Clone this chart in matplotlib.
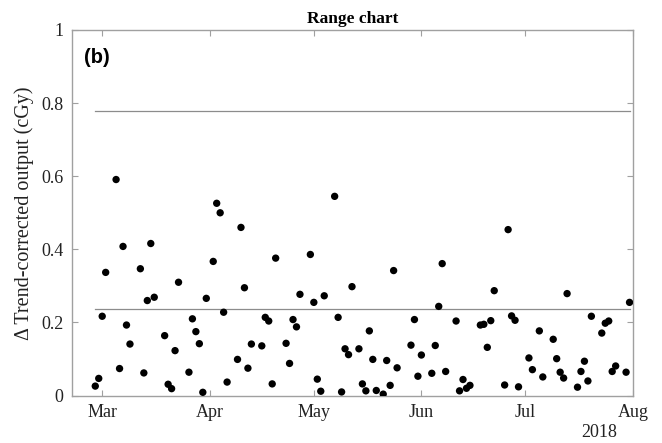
import datetime as dt
import matplotlib
matplotlib.use("Agg")
import matplotlib.pyplot as plt
import matplotlib.dates as mdates
from matplotlib.ticker import FixedLocator, FuncFormatter

# Daily range of trend-corrected output (cGy), 2018
dates = [
    "2018-02-27", "2018-02-28", "2018-03-01", "2018-03-02", "2018-03-05", "2018-03-06",
    "2018-03-07", "2018-03-08", "2018-03-09", "2018-03-12", "2018-03-13", "2018-03-14",
    "2018-03-15", "2018-03-16", "2018-03-19", "2018-03-20", "2018-03-21", "2018-03-22",
    "2018-03-23", "2018-03-26", "2018-03-27", "2018-03-28", "2018-03-29", "2018-03-30",
    "2018-03-31", "2018-04-02", "2018-04-03", "2018-04-04", "2018-04-05", "2018-04-06",
    "2018-04-09", "2018-04-10", "2018-04-11", "2018-04-12", "2018-04-13", "2018-04-16",
    "2018-04-17", "2018-04-18", "2018-04-19", "2018-04-20", "2018-04-23", "2018-04-24",
    "2018-04-25", "2018-04-26", "2018-04-27", "2018-04-30", "2018-05-01", "2018-05-02",
    "2018-05-03", "2018-05-04", "2018-05-07", "2018-05-08", "2018-05-09", "2018-05-10",
    "2018-05-11", "2018-05-12", "2018-05-14", "2018-05-15", "2018-05-16", "2018-05-17",
    "2018-05-18", "2018-05-19", "2018-05-21", "2018-05-22", "2018-05-23", "2018-05-24",
    "2018-05-25", "2018-05-29", "2018-05-30", "2018-05-31", "2018-06-01", "2018-06-04",
    "2018-06-05", "2018-06-06", "2018-06-07", "2018-06-08", "2018-06-11", "2018-06-12",
    "2018-06-13", "2018-06-14", "2018-06-15", "2018-06-18", "2018-06-19", "2018-06-20",
    "2018-06-21", "2018-06-22", "2018-06-25", "2018-06-26", "2018-06-27", "2018-06-28",
    "2018-06-29", "2018-07-02", "2018-07-03", "2018-07-05", "2018-07-06", "2018-07-09",
    "2018-07-10", "2018-07-11", "2018-07-12", "2018-07-13", "2018-07-16", "2018-07-17",
    "2018-07-18", "2018-07-19", "2018-07-20", "2018-07-23", "2018-07-24", "2018-07-25",
    "2018-07-26", "2018-07-27", "2018-07-30", "2018-07-31",
]
ranges = [
    0.026, 0.047, 0.217, 0.337, 0.591, 0.074,
    0.408, 0.193, 0.141, 0.347, 0.062, 0.260,
    0.416, 0.269, 0.164, 0.031, 0.019, 0.123,
    0.310, 0.064, 0.210, 0.175, 0.142, 0.009,
    0.266, 0.367, 0.526, 0.500, 0.228, 0.037,
    0.099, 0.460, 0.295, 0.075, 0.141, 0.136,
    0.214, 0.204, 0.032, 0.376, 0.143, 0.088,
    0.208, 0.188, 0.277, 0.386, 0.255, 0.045,
    0.012, 0.273, 0.545, 0.214, 0.010, 0.128,
    0.112, 0.298, 0.128, 0.032, 0.013, 0.177,
    0.099, 0.014, 0.004, 0.096, 0.028, 0.342,
    0.076, 0.138, 0.208, 0.053, 0.111, 0.061,
    0.137, 0.244, 0.361, 0.066, 0.204, 0.013,
    0.044, 0.020, 0.028, 0.193, 0.195, 0.132,
    0.205, 0.287, 0.029, 0.454, 0.218, 0.206,
    0.024, 0.103, 0.071, 0.177, 0.051, 0.154,
    0.101, 0.064, 0.048, 0.279, 0.023, 0.066,
    0.094, 0.040, 0.217, 0.171, 0.198, 0.204,
    0.066, 0.081, 0.064, 0.255,
]

# Control limits: mean range and upper control limit (D4 * Rbar)
r_bar = 0.238
ucl = 0.778

month_ticks = ["2018-03-01", "2018-04-01", "2018-05-01", "2018-06-01", "2018-07-01", "2018-08-01"]
month_labels = ["Mar", "Apr", "May", "Jun", "Jul", "Aug"]
y_ticks = [0, 0.2, 0.4, 0.6, 0.8, 1.0]

serif = ["Liberation Serif", "DejaVu Serif"]
plt.rcParams["font.family"] = serif

t = [dt.datetime.fromisoformat(d) for d in dates]
tx = mdates.date2num(t)

fig = plt.figure(figsize=(6.62, 4.43), dpi=100)
ax = fig.add_axes([0.1088, 0.107, 0.9562 - 0.1088, 0.9323 - 0.107])

grey = "#8c8c8c"
ax.plot([tx[0], tx[-1]], [ucl, ucl], color=grey, lw=0.9, zorder=1)
ax.plot([tx[0], tx[-1]], [r_bar, r_bar], color=grey, lw=0.9, zorder=1)
ax.scatter(tx, ranges, s=28, color="black", edgecolors="none", zorder=3)

x0 = mdates.date2num(dt.datetime(2018, 3, 1) - dt.timedelta(days=8.7))
x1 = mdates.date2num(dt.datetime(2018, 8, 1))
ax.set_xlim(x0, x1)
ax.set_ylim(0, 1)

ax.xaxis.set_major_locator(FixedLocator(mdates.date2num([dt.datetime.fromisoformat(m) for m in month_ticks])))
ax.set_xticklabels(month_labels)
ax.yaxis.set_major_locator(FixedLocator(y_ticks))
ax.yaxis.set_major_formatter(FuncFormatter(lambda v, p: f"{v:g}"))

spine_col = "#a0a0a0"
for sp in ax.spines.values():
    sp.set_color(spine_col)
    sp.set_linewidth(1.0)
ax.tick_params(direction="in", length=4, width=0.8, color=spine_col,
               top=True, right=True, labelsize=13, labelcolor="#222222", pad=6)

ax.set_ylabel("Δ Trend-corrected output (cGy)", fontsize=14.5, color="#222222", labelpad=5)
ax.set_title("Range chart", fontsize=12.5, fontweight="bold", pad=5)

ax.text(0.022, 0.95, "(b)", transform=ax.transAxes, ha="left", va="top",
        fontsize=14.5, fontweight="bold", family=["Liberation Sans", "DejaVu Sans"])
ax.text(0.94, -0.102, "2018", transform=ax.transAxes, ha="center", va="center",
        fontsize=13, color="#222222")

fig.savefig("out.png", dpi=100)
